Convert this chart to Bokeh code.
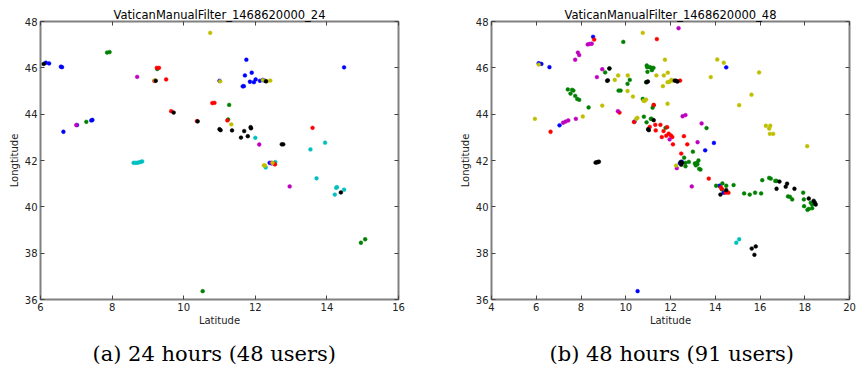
from bokeh.plotting import figure
from bokeh.models import Title, LinearAxis, FixedTicker, Range1d
from bokeh.layouts import row
from bokeh.embed import file_html
from bokeh.resources import INLINE

# ---------------- data: (a) 24 hours ----------------
A_BLUE = [(6.15, 46.22), (6.24, 46.19), (6.57, 46.05), (6.60, 46.03), (6.64, 43.24), (7.02, 43.53),
          (7.42, 43.73), (7.45, 43.75), (11.75, 46.35), (11.71, 45.67), (11.90, 45.79), (11.00, 45.44),
          (11.85, 45.40), (11.96, 45.38), (12.01, 45.50), (12.13, 45.44), (12.21, 45.48), (12.27, 45.44),
          (11.65, 45.20), (11.68, 45.21), (14.48, 46.02), (12.40, 41.90), (12.45, 41.88)]
A_BLACK = [(6.09, 46.17), (9.22, 45.44), (9.72, 44.07), (10.39, 43.69), (11.00, 43.35), (11.03, 43.31),
           (11.35, 43.30), (11.60, 42.99), (11.69, 43.27), (11.79, 43.05), (11.87, 43.44), (11.88, 43.39),
           (12.30, 45.42), (12.74, 42.70), (12.78, 42.70), (14.39, 40.62)]
A_GREEN = [(7.86, 46.66), (7.93, 46.68), (9.26, 45.95), (7.28, 43.67), (11.27, 44.40), (11.24, 43.77),
           (10.53, 36.36), (14.95, 38.45), (15.07, 38.60)]
A_RED = [(9.25, 46.00), (9.31, 46.00), (9.18, 45.44), (9.51, 45.50), (9.65, 44.13), (10.80, 44.48),
         (10.86, 44.49), (11.22, 43.73), (10.37, 43.70), (12.55, 41.83), (12.52, 41.87), (13.60, 43.41)]
A_MAGENTA = [(8.70, 45.61), (7.00, 43.53), (12.11, 42.69), (12.96, 40.88), (12.45, 41.90)]
A_YELLOW = [(10.74, 47.51), (9.20, 45.46), (11.02, 45.42), (11.33, 43.56), (12.21, 45.47), (12.32, 45.42),
            (12.42, 45.45), (12.24, 41.79), (12.27, 41.78), (12.48, 41.90)]
A_CYAN = [(8.60, 41.90), (8.65, 41.90), (8.70, 41.90), (8.75, 41.92), (8.80, 41.94), (8.84, 41.96),
          (12.00, 42.98), (12.29, 41.70), (12.56, 41.93), (13.54, 42.48), (13.95, 42.77), (13.71, 41.23),
          (14.26, 40.82), (14.28, 40.85), (14.48, 40.74), (14.22, 40.53)]

# ---------------- data: (b) 48 hours ----------------
B_BLUE = [(6.11, 46.20), (6.23, 46.17), (6.59, 46.03), (8.54, 47.34), (7.04, 43.52), (10.39, 43.68),
          (14.49, 46.02), (13.94, 42.76), (13.55, 42.44), (12.50, 41.95), (12.42, 41.88), (14.19, 40.91),
          (14.37, 40.61), (10.53, 36.36)]
B_BLACK = [(9.17, 45.44), (9.20, 45.46), (9.27, 45.97), (10.93, 45.38), (10.99, 45.41), (11.25, 43.74),
           (11.00, 43.35), (11.03, 43.31), (12.19, 45.45), (12.31, 45.41), (12.25, 45.44), (12.45, 41.93),
           (12.52, 41.90), (12.48, 41.82), (8.65, 41.91), (8.70, 41.92), (8.75, 41.93), (8.80, 41.95),
           (14.49, 40.72), (14.23, 40.53), (16.87, 41.09), (16.74, 40.78), (17.15, 40.87), (17.21, 41.00),
           (17.54, 40.78), (18.18, 40.36), (18.40, 40.26), (18.45, 40.18), (18.49, 40.10), (15.63, 38.20),
           (15.81, 38.29), (15.75, 37.93)]
B_GREEN = [(9.89, 47.12), (9.27, 45.98), (9.08, 45.80), (10.18, 45.48), (10.08, 45.31), (7.41, 45.07),
           (7.66, 45.02), (7.60, 45.05), (7.53, 44.89), (7.74, 44.79), (7.83, 44.66), (7.92, 44.62),
           (9.68, 45.02), (9.77, 45.02), (8.34, 44.29), (10.81, 43.89), (10.93, 43.65), (10.76, 44.66),
           (11.20, 44.28), (11.25, 44.39), (10.94, 46.10), (10.96, 46.03), (11.07, 46.03), (11.15, 46.00),
           (11.24, 46.00), (11.17, 45.90), (10.97, 45.83), (10.91, 45.38), (11.15, 43.80), (11.12, 43.80),
           (11.78, 43.41), (13.61, 43.40), (13.00, 42.38), (12.61, 42.12), (12.67, 41.90), (12.67, 41.75),
           (12.82, 41.94), (13.09, 41.87), (13.13, 41.79), (13.18, 41.90), (13.25, 42.00), (13.20, 41.84),
           (13.28, 41.64), (13.34, 41.61), (14.04, 40.91), (14.32, 41.01), (14.49, 40.91), (14.82, 40.94),
           (14.30, 40.75), (15.29, 40.58), (15.54, 40.53), (15.78, 40.61), (16.05, 40.58), (16.10, 41.15),
           (16.41, 41.25), (16.48, 41.22), (16.68, 41.12), (16.74, 41.12), (17.25, 40.45), (17.34, 40.43),
           (17.44, 40.32), (17.93, 40.61), (17.96, 40.32), (18.27, 40.18), (18.33, 40.10), (17.97, 40.03),
           (18.12, 39.87), (18.18, 39.91), (18.33, 39.94)]
B_RED = [(8.59, 47.22), (11.39, 47.24), (12.43, 45.45), (6.64, 43.24), (9.72, 44.07), (10.37, 43.66),
         (11.25, 44.40), (11.07, 43.45), (11.32, 43.54), (11.34, 43.30), (11.55, 43.54), (11.69, 43.27),
         (11.81, 43.07), (11.61, 43.01), (11.85, 43.44), (11.92, 43.16), (12.02, 43.08), (12.08, 43.01),
         (12.11, 42.70), (12.60, 43.05), (12.75, 42.70), (12.48, 42.30), (13.71, 41.22), (14.25, 40.84),
         (14.29, 40.78), (14.47, 40.61), (14.59, 40.61)]
B_MAGENTA = [(8.30, 47.01), (8.39, 47.03), (8.48, 47.04), (7.86, 46.66), (7.92, 46.55), (7.74, 46.35),
             (12.36, 47.71), (8.95, 45.94), (8.71, 45.60), (7.77, 43.80), (7.43, 43.73), (7.31, 43.68),
             (7.20, 43.63), (9.65, 44.13), (12.54, 43.91), (12.67, 43.96), (13.39, 43.60), (13.21, 42.79),
             (11.96, 42.91), (12.28, 41.67), (12.95, 40.88)]
B_YELLOW = [(10.76, 47.51), (6.11, 46.14), (9.66, 45.67), (9.51, 45.48), (10.09, 45.67), (10.08, 45.00),
            (10.32, 44.76), (8.95, 44.37), (8.08, 43.90), (5.94, 43.80), (10.47, 43.80), (10.52, 43.84),
            (10.91, 44.63), (10.79, 44.58), (10.84, 44.57), (11.37, 45.67), (11.70, 45.67), (11.75, 46.35),
            (11.88, 45.79), (11.66, 45.21), (11.87, 44.45), (11.87, 45.38), (11.96, 45.40), (12.04, 45.48),
            (12.10, 45.45), (14.09, 46.36), (14.38, 46.22), (15.96, 45.80), (13.80, 45.60), (15.62, 44.84),
            (15.07, 44.39), (16.26, 43.50), (16.46, 43.50), (16.41, 43.38), (16.44, 43.15), (16.59, 43.15),
            (18.11, 42.62), (12.25, 41.78)]
B_CYAN = [(15.07, 38.60), (14.94, 38.45)]

A_XTICKS = [6, 8, 10, 12, 14, 16]
B_XTICKS = [4, 6, 8, 10, 12, 14, 16, 18, 20]
YTICKS = [36, 38, 40, 42, 44, 46, 48]

COLORS = {"b": "#0000ff", "g": "#008000", "r": "#ff0000", "c": "#00bfbf",
          "m": "#bf00bf", "y": "#bfbf00", "k": "#000000"}

FRAME = "#808080"
SANS = "DejaVu Sans"


def make(title, caption, xlim, xticks, groups, bl, br, cap_offset):
    p = figure(frame_width=358, frame_height=278,
               x_range=Range1d(*xlim), y_range=Range1d(36, 48),
               output_backend="svg", toolbar_location=None,
               min_border_left=bl, min_border_right=br,
               min_border_top=21, min_border_bottom=0,
               background_fill_color="white", border_fill_color="white")
    p.grid.visible = False
    p.outline_line_color = FRAME
    p.outline_line_width = 2

    p.title.text = title
    p.title.align = "center"
    p.title.text_font = SANS
    p.title.text_font_size = "11.5px"
    p.title.text_font_style = "normal"
    p.title.text_color = "#000000"
    p.title.standoff = 0

    for ax in (p.xaxis[0], p.yaxis[0]):
        ax.axis_line_color = None
        ax.major_tick_in = 4
        ax.major_tick_out = 0
        ax.major_tick_line_color = "#444444"
        ax.minor_tick_line_color = None
        ax.major_label_text_font = SANS
        ax.major_label_text_font_size = "10px"
        ax.major_label_text_color = "#222222"
        ax.major_label_standoff = 3
        ax.axis_label_text_font = SANS
        ax.axis_label_text_font_size = "10px"
        ax.axis_label_text_font_style = "normal"
        ax.axis_label_text_color = "#222222"
        ax.axis_label_standoff = 2
    p.xaxis.ticker = FixedTicker(ticks=xticks)
    p.yaxis.ticker = FixedTicker(ticks=YTICKS)
    p.xaxis.axis_label = "Latitude"
    p.yaxis.axis_label = "Longtitude"
    p.xaxis.axis_label_standoff = 1

    # tick marks on the top and right edges (no labels), as in the original
    for loc, ticks in (("above", xticks), ("right", YTICKS)):
        ax = LinearAxis(ticker=FixedTicker(ticks=ticks), axis_line_color=None,
                        major_tick_in=4, major_tick_out=0,
                        major_tick_line_color="#444444", minor_tick_line_color=None,
                        major_label_text_font_size="1px", major_label_text_color=None,
                        major_label_standoff=0)
        p.add_layout(ax, loc)

    for key, pts in groups:
        xs = [a for a, b in pts]
        ys = [b for a, b in pts]
        p.scatter(xs, ys, size=3.8, fill_color=COLORS[key], line_color=COLORS[key],
                  line_width=0.5)

    cap = Title(text=caption, align="left", text_font="DejaVu Serif",
                text_font_size="21px", text_font_style="normal", text_color="#000000",
                standoff=22, offset=cap_offset)
    p.add_layout(cap, "below")
    return p


pa = make("VaticanManualFilter_1468620000_24", "(a) 24 hours (48 users)", (6, 16), A_XTICKS,
          [("c", A_CYAN), ("b", A_BLUE), ("g", A_GREEN), ("r", A_RED), ("m", A_MAGENTA),
           ("y", A_YELLOW), ("k", A_BLACK)], 40, 48, 52)
pb = make("VaticanManualFilter_1468620000_48", "(b) 48 hours (91 users)", (4, 20), B_XTICKS,
          [("c", B_CYAN), ("b", B_BLUE), ("g", B_GREEN), ("r", B_RED), ("m", B_MAGENTA),
           ("y", B_YELLOW), ("k", B_BLACK)], 45, 7, 58)

layout = row(pa, pb, spacing=0)
open("out.html", "w").write(file_html(layout, INLINE))
